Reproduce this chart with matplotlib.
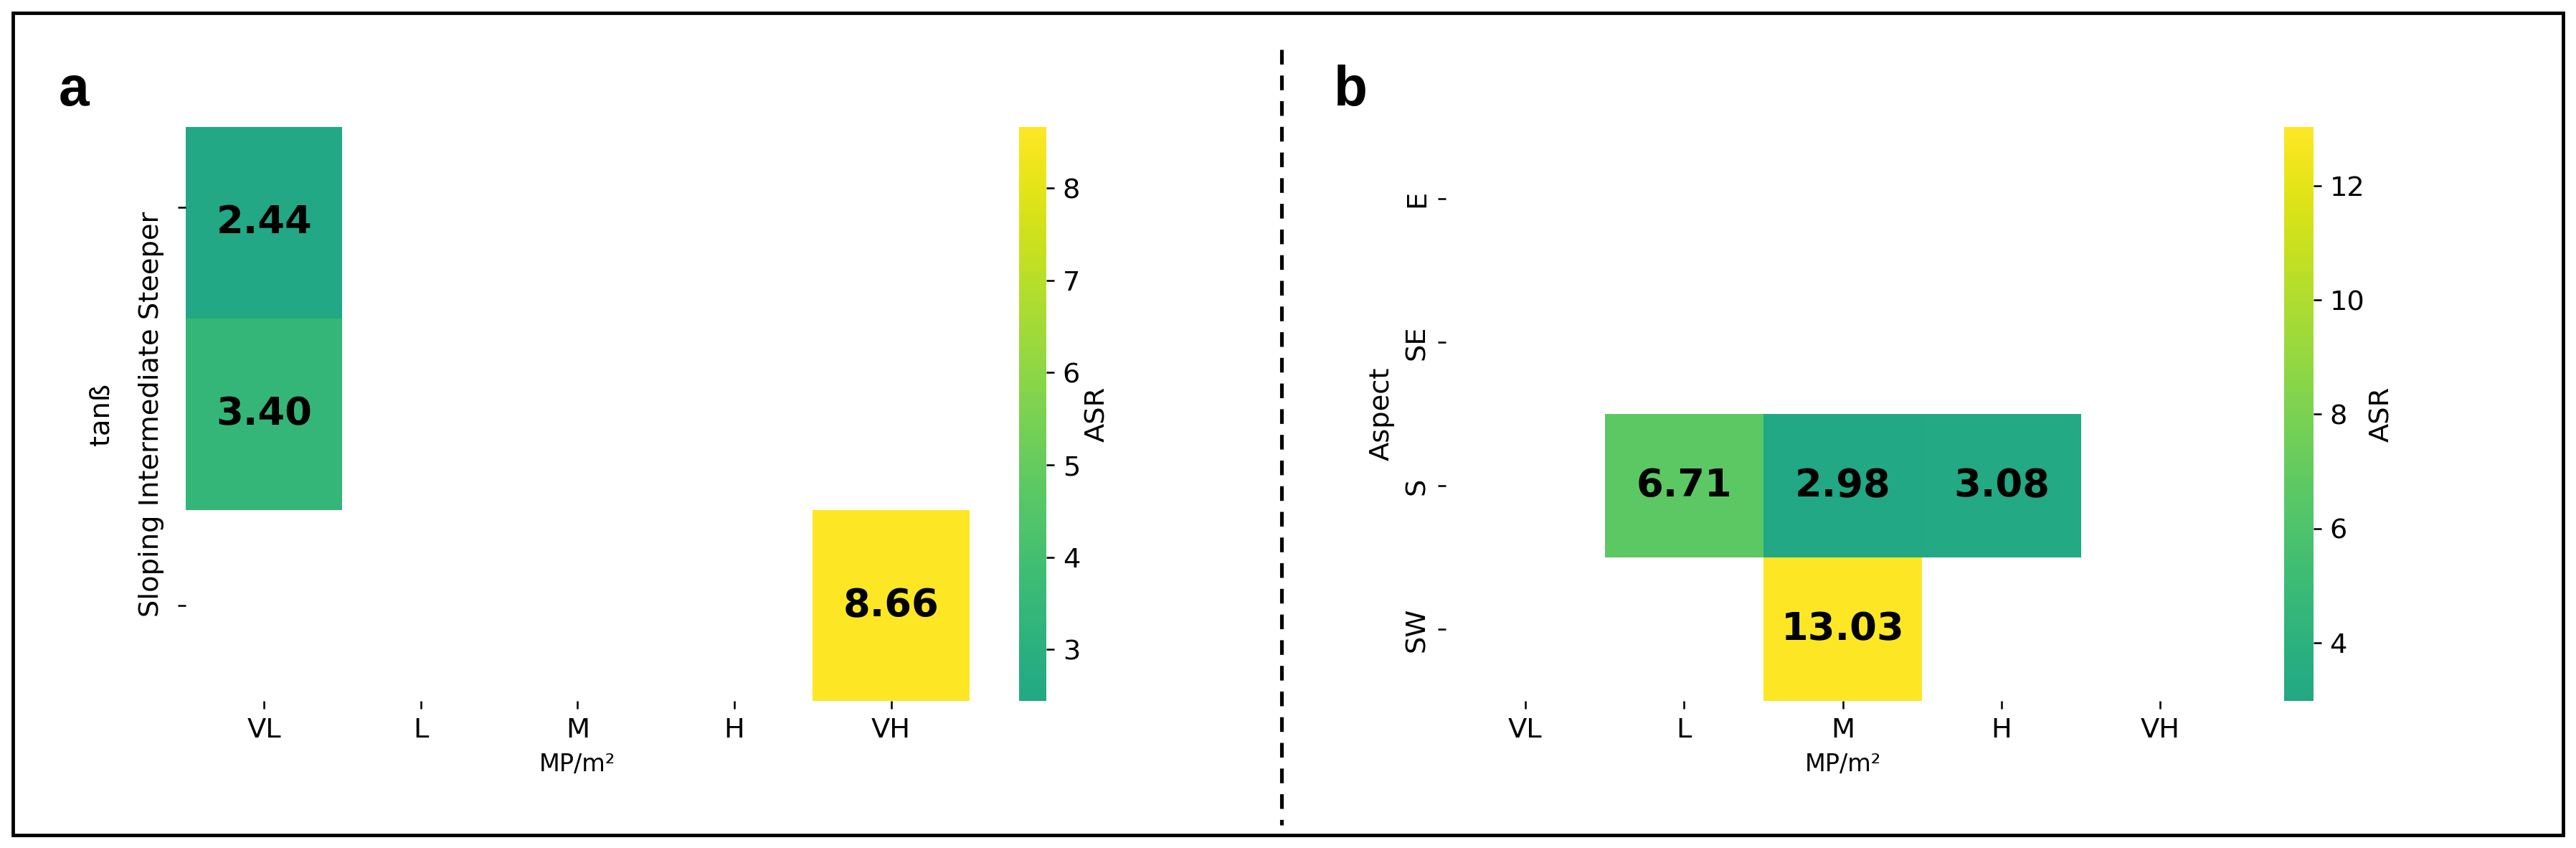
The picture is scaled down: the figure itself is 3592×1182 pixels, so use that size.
import numpy as np
import matplotlib
matplotlib.use("Agg")
import matplotlib.pyplot as plt
from matplotlib.colors import ListedColormap
from matplotlib.patches import Rectangle
from matplotlib.lines import Line2D

cols = ["VL", "L", "M", "H", "VH"]
slope_rows = ["Steeper", "Intermediate", "Sloping"]
slope_vals = np.array([
    [2.44, np.nan, np.nan, np.nan, np.nan],
    [3.40, np.nan, np.nan, np.nan, np.nan],
    [np.nan, np.nan, np.nan, np.nan, 8.66],
])
aspect_rows = ["E", "SE", "S", "SW"]
aspect_vals = np.array([
    [np.nan, np.nan, np.nan, np.nan, np.nan],
    [np.nan, np.nan, np.nan, np.nan, np.nan],
    [np.nan, 6.71, 2.98, 3.08, np.nan],
    [np.nan, np.nan, 13.03, np.nan, np.nan],
])

cmap = ListedColormap(plt.cm.viridis(np.linspace(0.6, 1.0, 256)))

fig = plt.figure(figsize=(15.62, 5.14), dpi=230)
W, H = 1568, 514


def box(x0, y0, x1, y1):
    return [x0 / W, 1 - y1 / H, (x1 - x0) / W, (y1 - y0) / H]


def panel(ax, cax, vals, ticks):
    data = np.ma.masked_invalid(vals)
    im = ax.pcolormesh(data, cmap=cmap, vmin=np.nanmin(vals), vmax=np.nanmax(vals))
    ax.set_xlim(0, vals.shape[1])
    ax.set_ylim(vals.shape[0], 0)
    for s in ax.spines.values():
        s.set_visible(False)
    for i in range(vals.shape[0]):
        for j in range(vals.shape[1]):
            if not np.isnan(vals[i, j]):
                ax.text(j + 0.5, i + 0.5, f"{vals[i, j]:.2f}", ha="center", va="center",
                        fontsize=17, fontweight="bold", color="black")
    ax.set_xticks(np.arange(vals.shape[1]) + 0.5)
    ax.set_xticklabels(cols, fontsize=12)
    ax.set_xlabel("MP/m²", fontsize=10.5)
    cb = fig.colorbar(im, cax=cax, ticks=ticks)
    cb.outline.set_visible(False)
    cb.ax.tick_params(labelsize=12)
    cb.set_label("ASR", fontsize=12, labelpad=2)


ax1 = fig.add_axes(box(113, 77, 590, 425))
cax1 = fig.add_axes(box(620, 77, 637, 425))
panel(ax1, cax1, slope_vals, [3, 4, 5, 6, 7, 8])
ax1.set_yticks([0.42, 2.5])
ax1.set_yticklabels(["", ""])
ax1.text(-0.22, 1.5, " ".join(slope_rows[::-1]), rotation=90, ha="center", va="center",
         fontsize=12, transform=ax1.transData, clip_on=False)
ax1.set_ylabel("tanß", fontsize=12, labelpad=24)

ax2 = fig.add_axes(box(880, 77, 1363, 425))
cax2 = fig.add_axes(box(1390, 77, 1408, 425))
panel(ax2, cax2, aspect_vals, [4, 6, 8, 10, 12])
ax2.set_yticks(np.arange(4) + 0.5)
ax2.set_yticklabels(aspect_rows, rotation=90, va="center", fontsize=12)
ax2.set_ylabel("Aspect", fontsize=12)

fig.text(45 / W, 1 - 55 / H, "a", fontsize=24, fontweight="bold", va="center", ha="center",
         family="Liberation Sans")
fig.text(822 / W, 1 - 55 / H, "b", fontsize=24, fontweight="bold", va="center", ha="center",
         family="Liberation Sans")
fig.add_artist(Line2D([780 / W, 780 / W], [1 - 30 / H, 1 - 500 / H], color="black",
                      linestyle=(0, (4, 3)), lw=1.6, transform=fig.transFigure))
fig.add_artist(Rectangle((8 / W, 8 / H), 1 - 16 / W, 1 - 16 / H, fill=False, lw=1.5,
                         edgecolor="black", transform=fig.transFigure))

fig.savefig("out.png", dpi=230)
